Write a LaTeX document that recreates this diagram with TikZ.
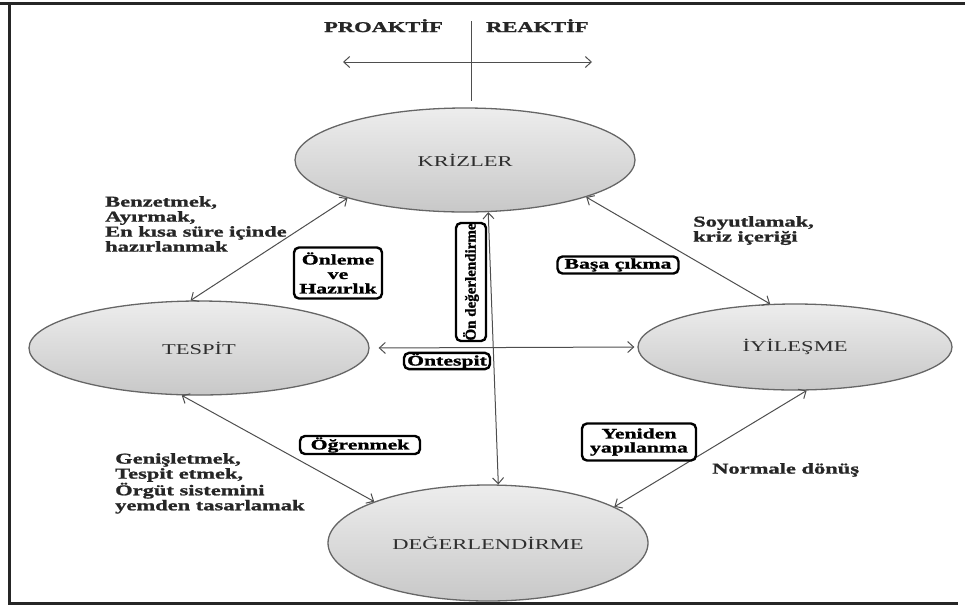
\documentclass[tikz,border=0pt]{standalone}
\usepackage{fontspec}
\setmainfont{Liberation Serif}[FakeStretch=1.5,BoldFeatures={FakeBold=1.3}]
\newfontfamily\rotfont{Liberation Serif}[BoldFeatures={FakeBold=1.3}]
\usetikzlibrary{arrows.meta,shapes.geometric}
\definecolor{conline}{HTML}{4E4E4E}
\definecolor{ellline}{HTML}{666666}
\definecolor{elltop}{HTML}{EDEDED}
\definecolor{ellbot}{HTML}{C8C8C8}
\definecolor{elltext}{HTML}{2E2E2E}
\tikzset{
  elli/.style={ellipse,draw=ellline,line width=1.3pt,top color=elltop,bottom color=ellbot,
    text=elltext,inner sep=0pt,font=\fontsize{15}{15}\selectfont},
  lbl/.style={inner sep=0pt,align=left,text=black!85,font=\fontsize{15}{15}\selectfont\bfseries},
  kutu/.style={draw=black,fill=white,line width=2.4pt,rounded corners=5pt,inner sep=0.5pt,
    align=center,font=\fontsize{14.5}{14.5}\selectfont\bfseries},
  barb/.tip={Straight Barb[length=6pt,width=11pt]},
  con/.style={draw=conline,line width=1pt,barb-barb}
}
\begin{document}
\begin{tikzpicture}[x=1pt,y=-1pt]
  \useasboundingbox (0,0) rectangle (965,606);
  \draw[line width=3pt,black!85](0,3)--(965,3);
  \draw[line width=3pt,black!85](9,3)--(9,603)--(958,603);
  % proaktif / reaktif
  \coordinate (pl) at (343,62);
  \coordinate (pr) at (592,62);
  \coordinate (pt) at (471,21);
  \coordinate (pb) at (471,101);
  \draw[con](pl)--(pr);
  \draw[draw=conline,line width=1pt](pt)--(pb);
  \node[lbl,anchor=north west] (proaktif) at (324,19) {PROAKTİF};
  \node[lbl,anchor=north west] (reaktif) at (486,19) {REAKTİF};
  % evreler
  \node[elli,minimum width=340,minimum height=104] (krizler) at (465,160) {KRİZLER};
  \node[elli,minimum width=340,minimum height=94] (tespit) at (199,348) {TESPİT};
  \node[elli,minimum width=314,minimum height=86] (iyilesme) at (795,347) {İYİLEŞME};
  \node[elli,minimum width=320,minimum height=116] (degerlendirme) at (488,543) {DEĞERLENDİRME};
  \draw[con](krizler.198)--(tespit.100);
  \draw[con](krizler.343)--(iyilesme.120);
  \draw[con](krizler.294)--(degerlendirme.80);
  \draw[con,shorten <=9pt,shorten >=3pt](tespit.east)--(iyilesme.west);
  \draw[con](tespit.250)--(degerlendirme.160);
  \draw[con](iyilesme.285)--(degerlendirme.16);
  % aciklamalar
  \node[lbl,anchor=north west] (benzetmek) at (105,196) {Benzetmek,\\Ayırmak,\\En kısa süre içinde\\hazırlanmak};
  \node[lbl,anchor=north west] (soyutlamak) at (693,216) {Soyutlamak,\\kriz içeriği};
  \node[lbl,anchor=north west] (genisletmek) at (115,453) {Genişletmek,\\Tespit etmek,\\Örgüt sistemini\\yemden tasarlamak};
  \node[lbl,anchor=north west] (normale) at (712,463) {Normale dönüş};
  \node[kutu,minimum width=88,minimum height=51] (onleme) at (338,273) {Önleme\\ve\\Hazırlık};
  \node[kutu,rotate=90,minimum width=113,minimum height=30,font=\rotfont\bfseries\fontsize{15}{15}\selectfont] (ondeger) at (471,282) {Ön değerlendirme};
  \node[kutu,minimum width=121,minimum height=17] (basa) at (618,265) {Başa çıkma};
  \node[kutu,minimum width=86,minimum height=16] (ontespit) at (447,361) {Öntespit};
  \node[kutu,minimum width=120,minimum height=18] (ogrenmek) at (360,445) {Öğrenmek};
  \node[kutu,minimum width=114,minimum height=37,font=\fontsize{14.5}{14}\selectfont\bfseries] (yeniden) at (639,442) {Yeniden\\yapılanma};
\end{tikzpicture}
\end{document}
